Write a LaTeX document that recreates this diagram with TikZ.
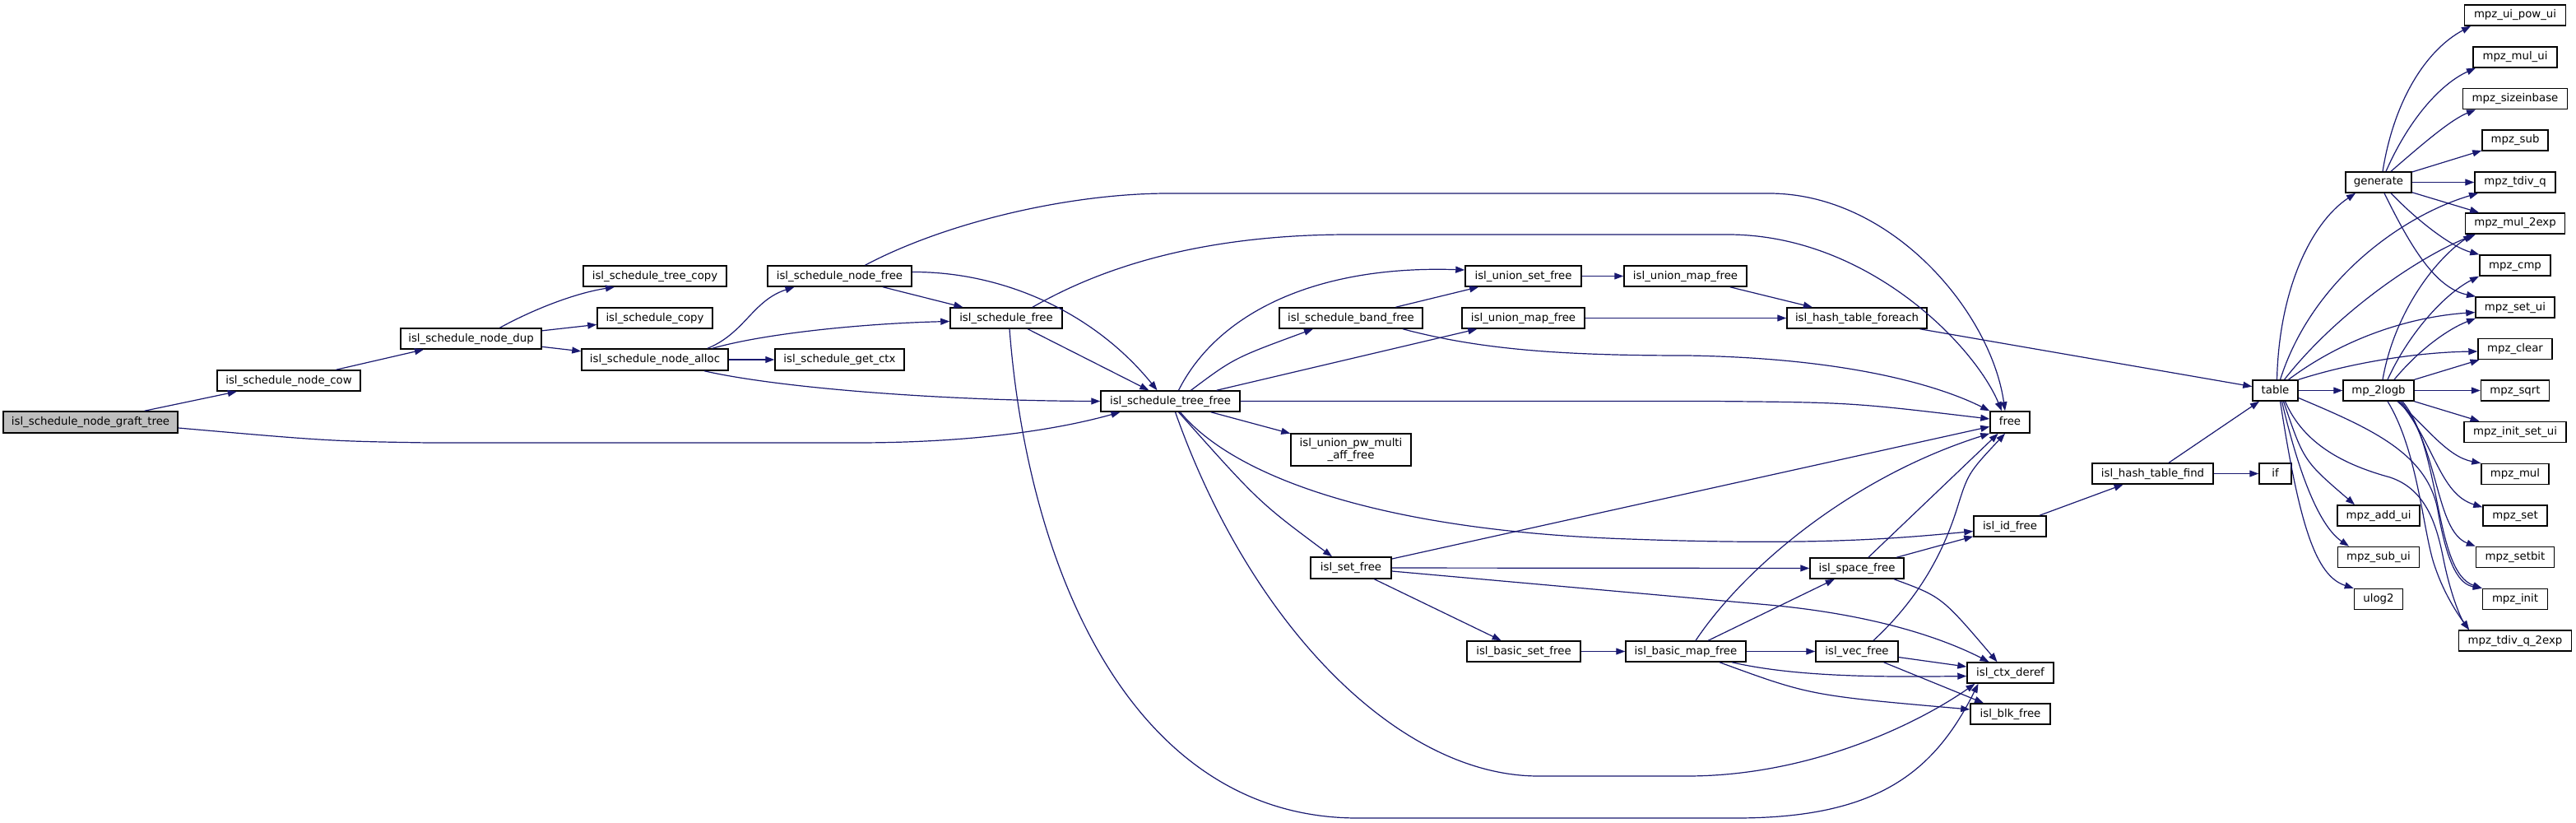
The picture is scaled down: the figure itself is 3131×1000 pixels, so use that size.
\documentclass[tikz,border=0pt]{standalone}
\usepackage{fontspec}
\setmainfont{DejaVu Sans}
\usetikzlibrary{arrows.meta}
\definecolor{edgeblue}{HTML}{191970}
\definecolor{graftgray}{HTML}{BFBFBF}
\begin{document}
\begin{tikzpicture}[x=1pt,y=-1pt,
  boxbase/.style={draw=black, line width=1.5pt, fill=white, inner sep=0pt,
    font=\fontsize{13.3}{14.2}\selectfont, minimum height=25pt},
  box/.style={boxbase, text height=9.8pt, text depth=2.8pt},
  edge/.style={draw=edgeblue, line width=1.2pt, -{Triangle[length=11pt,width=8pt]}}]
\fill[white] (0,0) rectangle (3131,1000);
\useasboundingbox (0,0) rectangle (3131,1000);

% left part
\node[box,minimum width=212pt,minimum height=26pt,fill=graftgray] (graft) at (110,513) {isl\_schedule\_node\_graft\_tree};
\node[box,minimum width=174pt] (cow) at (351,462.5) {isl\_schedule\_node\_cow};
\node[box,minimum width=171pt] (dup) at (572.5,411.5) {isl\_schedule\_node\_dup};
\node[box,minimum width=174pt] (tcopy) at (796,335.5) {isl\_schedule\_tree\_copy};
\node[box,minimum width=140pt] (scopy) at (796,386.5) {isl\_schedule\_copy};
\node[box,minimum width=178pt,minimum height=26pt] (alloc) at (796,437) {isl\_schedule\_node\_alloc};
\node[box,minimum width=157pt,minimum height=26pt] (getctx) at (1020.5,437) {isl\_schedule\_get\_ctx};
\node[box,minimum width=175pt] (nfree) at (1020.5,335.5) {isl\_schedule\_node\_free};
\node[box,minimum width=136pt] (sfree) at (1223,386.5) {isl\_schedule\_free};
\node[box,minimum width=169pt] (tfree) at (1422.5,487.5) {isl\_schedule\_tree\_free};
\node[boxbase,minimum width=146pt,minimum height=39pt,align=center] (upma) at (1642,546.5) {isl\_union\_pw\_multi\\\_aff\_free};
\node[box,minimum width=174pt] (bandfree) at (1642,386.5) {isl\_schedule\_band\_free};
\node[box,minimum width=141pt] (usetfree) at (1851.5,335.5) {isl\_union\_set\_free};
\node[box,minimum width=149pt] (umapA) at (2048.5,335.5) {isl\_union\_map\_free};
\node[box,minimum width=149pt] (umapB) at (1851.5,386.5) {isl\_union\_map\_free};
\node[box,minimum width=170pt] (htforeach) at (2257,386.5) {isl\_hash\_table\_foreach};
\node[box,minimum width=48pt,minimum height=26pt] (free) at (2443,513) {free};
\node[box,minimum width=98pt,minimum height=26pt] (setfree) at (1642,690) {isl\_set\_free};
\node[box,minimum width=138pt] (bsetfree) at (1852,791.5) {isl\_basic\_set\_free};
\node[box,minimum width=146pt] (bmapfree) at (2049,791.5) {isl\_basic\_map\_free};
\node[box,minimum width=114pt] (spacefree) at (2257,690.5) {isl\_space\_free};
\node[box,minimum width=100pt] (vecfree) at (2257,791.5) {isl\_vec\_free};
\node[box,minimum width=105pt] (ctxderef) at (2443.5,817.5) {isl\_ctx\_deref};
\node[box,minimum width=97pt] (blkfree) at (2443.5,867.5) {isl\_blk\_free};
\node[box,minimum width=88pt] (idfree) at (2443,639.5) {isl\_id\_free};
\node[box,minimum width=147pt] (htfind) at (2616.5,575.5) {isl\_hash\_table\_find};
\node[box,minimum width=39pt] (iff) at (2765.5,575.5) {if};
\node[box,minimum width=55pt] (table) at (2765.5,474.5) {table};
\node[box,minimum width=80pt] (generate) at (2891,221.5) {generate};
\node[box,minimum width=86pt] (mptwologb) at (2891,474.5) {mp\_2logb};
\node[box,minimum width=100pt] (addui) at (2891,626.5) {mpz\_add\_ui};
\node[box,minimum width=99pt] (subui) at (2891,677) {mpz\_sub\_ui};
\node[box,minimum width=59pt] (ulogtwo) at (2891,728) {ulog2};
% mpz column
\node[box,minimum width=123pt] (uipowui) at (3057,18.5) {mpz\_ui\_pow\_ui};
\node[box,minimum width=102pt] (mului) at (3057,69.5) {mpz\_mul\_ui};
\node[box,minimum width=127pt] (sizeinbase) at (3057,120) {mpz\_sizeinbase};
\node[box,minimum width=80pt] (sub) at (3057,170.5) {mpz\_sub};
\node[box,minimum width=98pt] (tdivq) at (3057,221.5) {mpz\_tdiv\_q};
\node[box,minimum width=121pt] (mulexp) at (3057,271.5) {mpz\_mul\_2exp};
\node[box,minimum width=86pt] (cmp) at (3057,322.5) {mpz\_cmp};
\node[box,minimum width=96pt] (setui) at (3057,373.5) {mpz\_set\_ui};
\node[box,minimum width=90pt] (clear) at (3057,424) {mpz\_clear};
\node[box,minimum width=83pt] (sqrt) at (3057,474.5) {mpz\_sqrt};
\node[box,minimum width=124pt] (initsetui) at (3057,525) {mpz\_init\_set\_ui};
\node[box,minimum width=82pt] (mul) at (3057,576) {mpz\_mul};
\node[box,minimum width=78pt] (set) at (3057,626.5) {mpz\_set};
\node[box,minimum width=95pt] (setbit) at (3057,677) {mpz\_setbit};
\node[box,minimum width=79pt] (init) at (3057,728) {mpz\_init};
\node[box,minimum width=137pt] (tdivqexp) at (3057,778.5) {mpz\_tdiv\_q\_2exp};

% edges: left
\draw[edge] (graft) -- (cow);
\draw[edge] ([yshift=-7pt]graft.east) .. controls (400,536) .. (520,538) -- (1040,538) .. controls (1200,538) and (1300,518) .. ([xshift=-61pt]tfree.south);
\draw[edge] (cow) -- (dup);
\draw[edge] ([xshift=35pt]dup.north) .. controls (650,375) and (700,356) .. ([xshift=-49pt]tcopy.south);
\draw[edge] (dup) -- (scopy);
\draw[edge] (dup) -- (alloc);
\draw[edge] ([xshift=64pt]alloc.north) .. controls (905,405) and (915,365) .. ([xshift=-55pt]nfree.south);
\draw[edge] ([xshift=70pt]alloc.north) .. controls (930,405) and (1050,393) .. ([yshift=-4pt]sfree.west);
\draw[edge] (alloc) -- (getctx);
\draw[edge] ([xshift=60pt]alloc.south) .. controls (950,472) and (1150,487) .. (tfree.west);
\draw[edge] ([xshift=31pt]nfree.north) .. controls (1150,270) and (1300,235) .. (1420,235) -- (2150,235) .. controls (2300,235) and (2420,380) .. ([xshift=-6pt]free.north);
\draw[edge] (nfree) -- (sfree);
\draw[edge] ([yshift=5pt]nfree.east) .. controls (1220,330) and (1330,380) .. ([xshift=-16pt]tfree.north);
\draw[edge] ([xshift=32pt]sfree.north) .. controls (1330,330) and (1450,285) .. (1640,285) -- (2100,285) .. controls (2270,285) and (2400,420) .. ([xshift=-10pt]free.north);
\draw[edge] (sfree) -- (tfree);
\draw[edge] ([xshift=4pt]sfree.south) .. controls (1250,700) and (1380,994) .. (1650,994) -- (2110,994) .. controls (2280,994) and (2350,940) .. ([xshift=-39pt]ctxderef.south);
% tree_free
\draw[edge] ([xshift=10pt]tfree.north) .. controls (1480,380) and (1600,322) .. ([yshift=7.5pt]usetfree.west);
\draw[edge] ([xshift=25pt]tfree.north) .. controls (1500,435) .. ([xshift=-46pt]bandfree.south);
\draw[edge] (tfree) -- (umapB);
\draw[edge] (tfree.east) -- (2080,487.5) .. controls (2250,489) .. ([yshift=4pt]free.west);
\draw[edge] (tfree) -- (upma);
\draw[edge] ([xshift=12pt]tfree.south) .. controls (1500,580) and (1680,645) .. (1980,655) .. controls (2200,663) and (2300,655) .. ([yshift=-6pt]idfree.west);
\draw[edge] ([xshift=10pt]tfree.south) .. controls (1530,610) .. ([xshift=-23pt]setfree.north);
\draw[edge] ([xshift=6pt]tfree.south) .. controls (1520,760) and (1700,943) .. (1870,943) -- (2050,943) .. controls (2200,943) and (2330,880) .. ([xshift=-43pt]ctxderef.south);
% middle
\draw[edge] (bandfree) -- (usetfree);
\draw[edge] ([xshift=63pt]bandfree.south) .. controls (1800,425) and (1900,432) .. (2050,432) .. controls (2250,435) and (2360,470) .. (free.north west);
\draw[edge] (usetfree) -- (umapA);
\draw[edge] (umapA) -- (htforeach);
\draw[edge] (umapB) -- (htforeach);
\draw[edge] (htforeach) -- (table);
\draw[edge] (setfree) -- (free);
\draw[edge] (setfree) -- (spacefree);
\draw[edge] ([yshift=-4pt]setfree.east) -- (2150,735) .. controls (2290,748) and (2370,780) .. ([xshift=-26pt]ctxderef.north);
\draw[edge] (setfree) -- (bsetfree);
\draw[edge] (bsetfree) -- (bmapfree);
\draw[edge] ([xshift=12pt]bmapfree.north) .. controls (2120,690) and (2250,580) .. (free.south west);
\draw[edge] (bmapfree) -- (spacefree);
\draw[edge] (bmapfree) -- (vecfree);
\draw[edge] ([xshift=56pt]bmapfree.south) .. controls (2180,822) and (2280,823) .. ([yshift=-4pt]ctxderef.west);
\draw[edge] ([xshift=41pt]bmapfree.south) .. controls (2200,845) .. ([yshift=5.5pt]blkfree.west);
\draw[edge] (spacefree) -- (free);
\draw[edge] (spacefree) -- (idfree);
\draw[edge] ([xshift=45pt]spacefree.south) .. controls (2360,725) .. ([xshift=-16pt]ctxderef.north);
\draw[edge] ([xshift=20pt]vecfree.north) .. controls (2340,720) and (2365,660) .. (2378,620) .. controls (2392,575) .. ([xshift=-6pt]free.south);
\draw[edge] (vecfree) -- (ctxderef);
\draw[edge] (vecfree) -- (blkfree);
\draw[edge] (idfree) -- (htfind);
\draw[edge] (htfind) -- (table);
\draw[edge] (htfind) -- (iff);
% table
\draw[edge] ([xshift=2pt]table.north) .. controls (2770,350) and (2810,270) .. ([xshift=-28pt]generate.south);
\draw[edge] (table) -- (mptwologb);
\draw[edge] ([xshift=6pt]table.north) .. controls (2810,340) and (2920,262) .. ([xshift=-45pt]tdivq.south);
\draw[edge] ([xshift=11pt]table.north) .. controls (2840,380) and (2940,312) .. ([xshift=-48pt]mulexp.south);
\draw[edge] ([xshift=16pt]table.north) .. controls (2850,410) and (2930,385) .. ([yshift=-6pt]setui.west);
\draw[edge] (table.north east) .. controls (2860,440) and (2940,428) .. ([yshift=-3pt]clear.west);
\draw[edge] ([xshift=10pt]table.south) .. controls (2800,560) .. ([xshift=-29pt]addui.north);
\draw[edge] ([xshift=8pt]table.south) .. controls (2795,580) and (2820,640) .. ([xshift=-36pt]subui.north);
\draw[edge] ([xshift=6pt]table.south) .. controls (2795,640) and (2815,700) .. (ulogtwo.north west);
\draw[edge] ([yshift=-9pt]table.east) .. controls (2880,520) and (2950,550) .. (2963,620) .. controls (2975,690) and (2990,710) .. (init.north west);
\draw[edge] ([xshift=12pt]table.south) .. controls (2800,540) and (2850,565) .. (2905,580) .. controls (2950,595) and (2962,640) .. (2970,680) .. controls (2978,720) and (2990,750) .. ([xshift=-56pt]tdivqexp.north);
% mp_2logb
\draw[edge] ([xshift=5pt]mptwologb.north) .. controls (2910,380) and (2960,315) .. ([xshift=-52pt]mulexp.south);
\draw[edge] ([xshift=11pt]mptwologb.north) .. controls (2930,400) and (2975,355) .. ([xshift=-44pt]cmp.south);
\draw[edge] ([xshift=19pt]mptwologb.north) .. controls (2940,425) and (2975,400) .. ([xshift=-48pt]setui.south);
\draw[edge] (mptwologb) -- (clear);
\draw[edge] (mptwologb) -- (sqrt);
\draw[edge] (mptwologb) -- (initsetui);
\draw[edge] ([xshift=23pt]mptwologb.south) .. controls (2950,520) and (2975,555) .. (mul.north west);
\draw[edge] ([xshift=25pt]mptwologb.south) .. controls (2960,540) and (2965,600) .. ([yshift=-3pt]set.north west);
\draw[edge] ([xshift=27pt]mptwologb.south) .. controls (2965,545) and (2960,645) .. (setbit.north west);
\draw[edge] ([xshift=29pt]mptwologb.south) .. controls (2968,545) and (2958,695) .. (init.north west);
\draw[edge] ([xshift=11pt]mptwologb.south) .. controls (2940,550) and (2945,650) .. (2960,690) .. controls (2972,725) and (2990,750) .. ([xshift=-56pt]tdivqexp.north);
% generate
\draw[edge] ([xshift=5pt]generate.north) .. controls (2910,120) and (2950,60) .. ([xshift=-54pt]uipowui.south);
\draw[edge] ([xshift=9pt]generate.north) .. controls (2930,140) and (2970,100) .. ([xshift=-48pt]mului.south);
\draw[edge] ([xshift=15pt]generate.north) .. controls (2950,170) and (2980,145) .. ([xshift=-48pt]sizeinbase.south);
\draw[edge] (generate) -- (sub);
\draw[edge] (generate) -- (tdivq);
\draw[edge] (generate) -- (mulexp);
\draw[edge] ([xshift=15pt]generate.south) .. controls (2940,270) and (2980,300) .. (cmp.north west);
\draw[edge] ([xshift=7pt]generate.south) .. controls (2930,300) and (2960,350) .. ([xshift=-48pt]setui.north);
\end{tikzpicture}
\end{document}
